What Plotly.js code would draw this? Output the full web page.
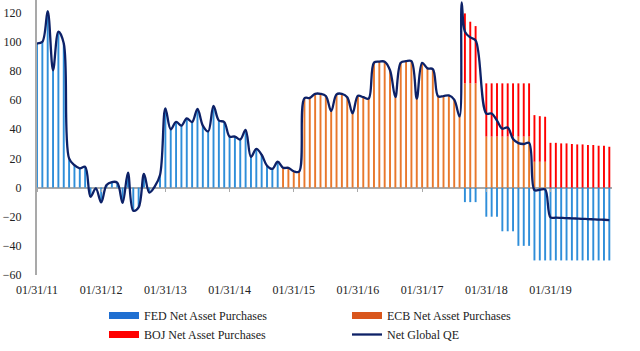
<!DOCTYPE html>
<html><head><meta charset="utf-8">
<script src="https://cdn.plot.ly/plotly-3.0.1.min.js"></script>
<style>html,body{margin:0;padding:0;background:#fff}#chart{width:640px;height:351px}</style>
</head><body><div id="chart"></div>
<script>
// Monthly observations, Jan 2011 (month 0) .. Dec 2019 (month 107)
const tickLabels = ["01/31/11","01/31/12","01/31/13","01/31/14","01/31/15","01/31/16","01/31/17","01/31/18","01/31/19"];
const tickMonths = [0,12,24,36,48,60,72,84,96];
const yTickValues = [-60,-40,-20,0,20,40,60,80,100,120];
const nMonths = 108;

const fedPurchases = [99,100,121,80.5,107,99,20,15.4,13.2,14.3,-6.3,-0.6,-10.2,1.7,3.8,3.4,-10.5,10.2,-15.9,-13.6,9.3,-3.5,0.6,8.6,
  54.3,40,45,42.5,47.5,45,54,42.5,38.5,56,46,45,35,35,33,39.5,21,26.5,22.5,15,12.8,17.7,
  ...Array(34).fill(null),
  -10,-10,-10,null,-20,-20,-20,-30,-30,-30,-40,-40,-40,
  -50,-50,-50,-50,-50,-50,-50,-50,-50,-50,-50,-50,-50,-50,-50];

const ecbPurchases = [...Array(46).fill(null),
  13.6,13.5,11.2,10.9,61.3,61.5,64.3,64.3,62.8,52.5,64,64.3,62,51,63,62,61,85.7,86.4,86.4,80.5,62,85.7,86.7,86.7,61,
  85.5,81.8,81.3,62.6,62.8,63.2,60.3,48.8,
  71.5,71.5,71.5,null,35,35,35,35,35,35,35,35,35,17.7,17.7,17.7,
  ...Array(12).fill(null)];

const bojPurchases = [...Array(80).fill(null),
  48,42.3,39.3,null,36.5,36.5,36.5,36.5,36.5,36.5,36.5,36.5,36.5,32,31.3,30.9,
  30.7,30.7,30.3,30.3,29.9,29.6,29.6,29.2,29.2,28.7,28.7,28.0];

const netGlobalQE = [99,100,121,80.5,107,99,20,15.4,13.2,14.3,-6.3,-0.6,-10.2,1.7,3.8,3.4,-10.5,10.2,-15.9,-13.6,9.3,-3.5,0.6,8.6,
  54.3,40,45,42.5,47.5,45,54,42.5,38.5,56,46,45,35,35,33,39.5,21,26.5,22.5,15,12.8,17.7,
  13.6,13.5,11.2,10.9,61.3,61.5,64.3,64.3,62.8,52.5,64,64.3,62,51,63,62,61,85.7,86.4,86.4,80.5,62,85.7,86.7,86.7,61,
  85.5,81.8,81.3,62.6,62.8,63.2,60.3,48.8,
  107,103,101,null,50.8,50.8,45.9,40.4,41.2,33.3,30.5,29.9,30.7,-1.7,-1.5,-1.3,
  -20.5,-20.6,-20.8,-21.0,-21.1,-21.3,-21.5,-21.6,-21.8,-22.0,-22.1,-22.3];
// short-lived peak of the net line just after month 79
const netSpike = {month: 79.4, value: 127};

const months = Array.from({length: nMonths}, (_, i) => i);
const lineX = [], lineY = [];
months.forEach(m => {
  lineX.push(m); lineY.push(netGlobalQE[m]);
  if (m === Math.floor(netSpike.month)) { lineX.push(netSpike.month); lineY.push(netSpike.value); }
});

const FED = '#2f8ed9', ECB = '#e8782c', BOJ = '#ff0000', NAVY = '#0d2167';
const FONT = "'Liberation Serif', 'Times New Roman', serif";
const BW = 0.36;

const traces = [
  {type:'bar', x: months, y: fedPurchases, width: BW, marker:{color: FED}, showlegend:false, hoverinfo:'skip'},
  {type:'bar', x: months, y: ecbPurchases, width: BW, marker:{color: ECB}, showlegend:false, hoverinfo:'skip'},
  {type:'bar', x: months, y: bojPurchases, width: BW, marker:{color: BOJ}, showlegend:false, hoverinfo:'skip'},
  {type:'scatter', mode:'lines', x: lineX, y: lineY, connectgaps:true,
   line:{color: NAVY, width: 2.3, shape:'spline', smoothing: 1}, showlegend:false, hoverinfo:'skip'},
  // legend entries
  {type:'scatter', mode:'lines', x:[null], y:[null], xaxis:'x2', name:'FED Net Asset Purchases', line:{color:'#1f6fd1', width:7}},
  {type:'scatter', mode:'lines', x:[null], y:[null], xaxis:'x2', name:'ECB Net Asset Purchases', line:{color:'#d9561c', width:7}},
  {type:'scatter', mode:'lines', x:[null], y:[null], xaxis:'x2', name:'BOJ Net Asset Purchases', line:{color:BOJ, width:7}},
  {type:'scatter', mode:'lines', x:[null], y:[null], xaxis:'x2', name:'Net Global QE', line:{color:NAVY, width:2.3}}
];

const layout = {
  width: 640, height: 351,
  margin: {l: 37, r: 28, t: 0, b: 76},
  paper_bgcolor: '#fff', plot_bgcolor: '#fff',
  barmode: 'relative',
  showlegend: true,
  font: {family: FONT, size: 12, color: '#222'},
  xaxis: {range: [0, 107.5], tickmode:'array', tickvals: tickMonths, ticktext: tickLabels,
          showgrid:false, zeroline:false, showline:false, ticks:'', ticklabelstandoff: 6,
          tickfont:{family: FONT, size: 12, color:'#222'}},
  xaxis2: {overlaying:'x', matches:'x', anchor:'free', position: 60/188.7, tickmode:'array', tickvals: tickMonths,
           ticks:'outside', ticklen:3, tickcolor:'#a9a9a9', tickwidth:1, showticklabels:false, showgrid:false, zeroline:false, showline:false},
  yaxis: {range: [-60, 128.7], tickmode:'array', tickvals: yTickValues, showgrid:false,
          showline:true, linecolor:'#a9a9a9', linewidth:2, zeroline:true, zerolinecolor:'#a9a9a9', zerolinewidth:2,
          ticks:'', ticklabelstandoff: 11, tickfont:{family: FONT, size: 12, color:'#222'}},
  legend: {orientation:'h', xref:'container', yref:'container', x: 104/640, y: 1 - 301/351, xanchor:'left', yanchor:'top',
           entrywidth: 198, entrywidthmode:'pixels', itemwidth: 30, bgcolor:'rgba(0,0,0,0)',
           font:{family: FONT, size: 12, color:'#222'}}
};

Plotly.newPlot('chart', traces, layout, {staticPlot: true, displayModeBar: false});
</script>
</body></html>
